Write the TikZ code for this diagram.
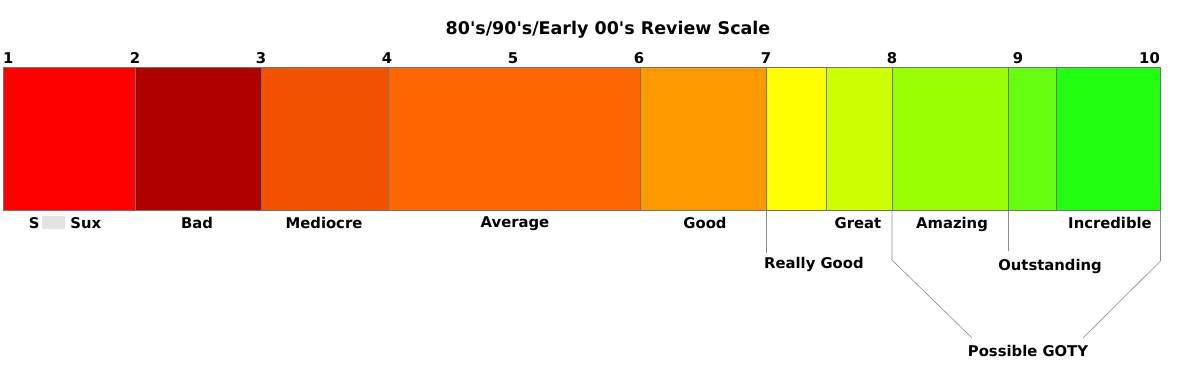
\documentclass[tikz,border=0pt]{standalone}
\usepackage{fontspec}
\setmainfont{DejaVu Sans}
\definecolor{c1}{HTML}{FF0000}
\definecolor{c2}{HTML}{B00000}
\definecolor{c3}{HTML}{F25200}
\definecolor{c4}{HTML}{FF6600}
\definecolor{c5}{HTML}{FF9900}
\definecolor{c6}{HTML}{FFFF00}
\definecolor{c7}{HTML}{CCFF00}
\definecolor{c8}{HTML}{99FF00}
\definecolor{c9}{HTML}{66FF11}
\definecolor{c10}{HTML}{22FF11}
\begin{document}
\begin{tikzpicture}[x=1pt,y=-1pt,
  seg/.style={draw=black!55,line width=0.6pt,inner sep=0pt,outer sep=0pt,minimum height=143.5pt},
  num/.style={font=\fontsize{14.8}{16}\selectfont\bfseries,anchor=base,inner sep=0pt},
  lab/.style={font=\fontsize{14.8}{16}\selectfont\bfseries,anchor=base,inner sep=0pt},
  conn/.style={draw=black!45,line width=0.6pt}]
\useasboundingbox (0,0) rectangle (1187,367);
\fill[white] (0,0) rectangle (1187,367);
% title
\node[font=\fontsize{17.5}{19}\selectfont\bfseries,anchor=base,inner sep=0pt] (title) at (608,34) {80\textquotesingle s/90\textquotesingle s/Early 00\textquotesingle s Review Scale};
% segments
\node[seg,fill=c1,minimum width=132pt] (s1) at (69,138.75) {};
\node[seg,fill=c2,minimum width=126.5pt] (s2) at (198.25,138.75) {};
\node[seg,fill=c3,minimum width=126.5pt] (s3) at (324.75,138.75) {};
\node[seg,fill=c4,minimum width=252pt] (s4) at (514,138.75) {};
\node[seg,fill=c5,minimum width=126pt] (s5) at (703,138.75) {};
\node[seg,fill=c6,minimum width=60pt] (s6) at (796,138.75) {};
\node[seg,fill=c7,minimum width=66pt] (s7) at (859,138.75) {};
\node[seg,fill=c8,minimum width=116pt] (s8) at (950,138.75) {};
\node[seg,fill=c9,minimum width=48pt] (s9) at (1032,138.75) {};
\node[seg,fill=c10,minimum width=104.5pt] (s10) at (1108.25,138.75) {};
% numbers
\node[num,anchor=base west] (n1) at (3,63) {1};
\node[num] (n2) at (135,63) {2};
\node[num] (n3) at (261,63) {3};
\node[num] (n4) at (387,63) {4};
\node[num] (n5) at (513,63) {5};
\node[num] (n6) at (639,63) {6};
\node[num] (n7) at (766,63) {7};
\node[num] (n8) at (892,63) {8};
\node[num] (n9) at (1018,63) {9};
\node[num,anchor=base east] (n10) at (1160,63) {10};
% labels under bar
\node[lab] (l1) at (65,228) {S\hspace{0.15em}{\color{black!11}\rule[-0.1em]{1.55em}{0.92em}}\hspace{0.4em}Sux};
\node[lab] (l2) at (197,228) {Bad};
\node[lab] (l3) at (324,228) {Mediocre};
\node[lab] (l4) at (515,227) {Average};
\node[lab] (l5) at (705,228) {Good};
\node[lab] (l7) at (858,228) {Great};
\node[lab] (l8) at (952,228) {Amazing};
\node[lab] (l10) at (1110,228) {Incredible};
\node[lab,anchor=base west] (l6) at (764,268) {Really Good};
\node[lab] (l9) at (1050,270) {Outstanding};
\node[lab] (goty) at (1028,356) {Possible GOTY};
% connectors
\coordinate (rg) at (766,253);
\coordinate (os) at (1008,251);
\coordinate (pa) at (892,260);
\coordinate (pb) at (1160.5,261);
\coordinate (ga) at (972,338);
\coordinate (gb) at (1083,338);
\draw[conn] (s6.south west) -- (rg);
\draw[conn] (s9.south west) -- (os);
\draw[conn] (s8.south west) -- (pa) -- (ga);
\draw[conn] (s10.south east) -- (pb) -- (gb);
\end{tikzpicture}
\end{document}
